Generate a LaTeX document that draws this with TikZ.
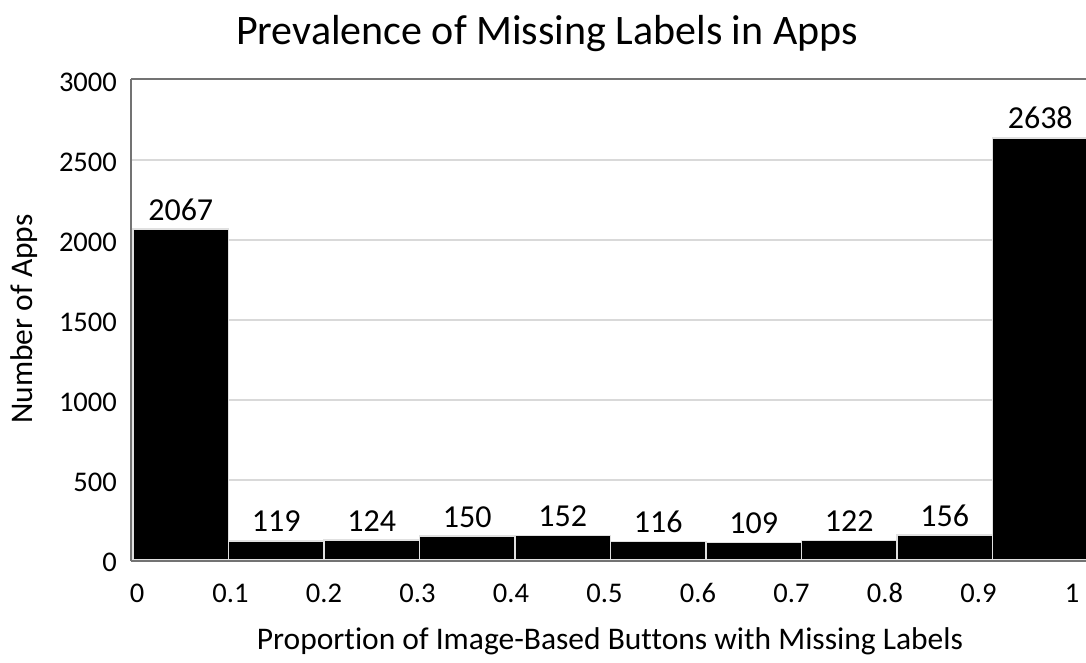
\documentclass[tikz,border=0pt]{standalone}
\usepackage{fontspec}
\setmainfont{Carlito}[Ligatures=NoCommon]
\begin{document}
\begin{tikzpicture}[x=1pt,y=-1pt,
  gridline/.style={draw=black!15,line width=1.5pt},
  axisline/.style={draw=black!55,line width=2pt},
  barbox/.style={fill=black,draw=black!12,line width=1.6pt},
  vallabel/.style={anchor=base,font=\fontsize{32}{36}\selectfont,inner sep=0pt},
  ticklabel/.style={font=\fontsize{28.5}{32}\selectfont,inner sep=0pt},
  titletext/.style={font=\fontsize{42}{48}\selectfont,inner sep=0pt},
  axistitle/.style={font=\fontsize{31.5}{36}\selectfont,inner sep=0pt}]
\useasboundingbox[fill=white] (0,0) rectangle (1086,662);
% horizontal grid lines every 500 apps (500 apps = 80 px)
\foreach \v in {500,1000,1500,2000,2500}
  \draw[gridline] (131,{560-0.16*\v}) -- (1086,{560-0.16*\v});
% plot frame
\draw[axisline] (131,79) -- (1086,79);
\draw[axisline] (131,79) -- (131,561);
% histogram bars
\foreach \v [count=\i from 0] in {2067,119,124,150,152,116,109,122,156,2638} {
  \path[barbox] ({133+95.5*\i},560) rectangle ({133+95.5*(\i+1)},{560-0.16*\v});
  \node[vallabel] (val\i) at ({133+95.5*(\i+0.5)},{560-0.16*\v-9}) {\v};
}
\draw[axisline] (131,561) -- (1086,561);
% y tick labels
\foreach \v in {0,500,1000,1500,2000,2500,3000}
  \node[ticklabel,anchor=east] (yt\v) at (117,{562-0.16*\v}) {\v};
% x tick labels
\foreach \t [count=\i from 0] in {0,0.1,0.2,0.3,0.4,0.5,0.6,0.7,0.8,0.9,1}
  \node[ticklabel] (xt\i) at ({137+93.5*\i},593) {\t};
% titles
\node[titletext] (title) at (547,34) {Prevalence of Missing Labels in Apps};
\node[axistitle,rotate=90] (ytitle) at (24,319) {Number of Apps};
\node[axistitle] (xtitle) at (610,641) {Proportion of Image-Based Buttons with Missing Labels};
\end{tikzpicture}
\end{document}
